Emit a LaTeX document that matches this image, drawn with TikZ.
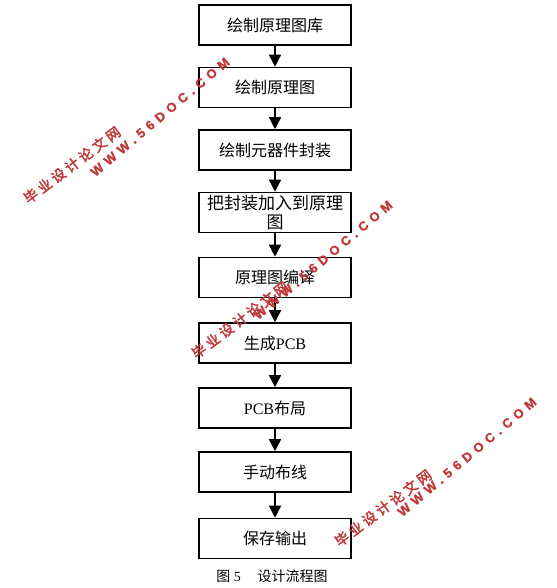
\documentclass[tikz,border=0pt]{standalone}
\usepackage{fontspec}
\setmainfont{Liberation Serif}
\newfontfamily\cjk{Noto Sans CJK SC}
\newfontfamily\cjkb[FakeBold=2.5]{Noto Sans CJK SC}
\newfontfamily\wmlat[LetterSpace=38,FakeBold=1.5]{Liberation Sans}
\usetikzlibrary{arrows.meta}
\definecolor{wmred}{HTML}{C0393B}
\tikzset{
  stepbox/.style={draw=black, line width=1.6pt, minimum width=152pt, minimum height=40pt,
    inner sep=0pt, font=\fontsize{16}{17}\selectfont, align=center},
  flow/.style={line width=1.6pt, -{Triangle[width=12pt,length=12pt]}},
  wmcn/.style={text=wmred, font=\cjkb\fontsize{14}{14}\selectfont, rotate=37, inner sep=0pt},
  wmen/.style={text=wmred, font=\wmlat\bfseries\fontsize{13}{13}\selectfont, rotate=40, inner sep=0pt}
}
\begin{document}
\begin{tikzpicture}[x=1pt,y=-1pt]
\useasboundingbox (0,0) rectangle (556,588);
\node[stepbox] (b1) at (275,25) {\cjk 绘制原理图库};
\node[stepbox] (b2) at (275,87.5) {\cjk 绘制原理图};
\node[stepbox] (b3) at (275,150) {\cjk 绘制元器件封装};
\node[stepbox, font=\fontsize{17}{19}\selectfont] (b4) at (275,212.5) {\cjk 把封装加入到原理\\\cjk 图};
\node[stepbox] (b5) at (275,277.5) {\cjk 原理图编译};
\node[stepbox] (b6) at (275,343) {{\cjk 生成}PCB};
\node[stepbox] (b7) at (275,408) {PCB{\cjk 布局}};
\node[stepbox] (b8) at (275,472) {\cjk 手动布线};
\node[stepbox] (b9) at (275,538.5) {\cjk 保存输出};
\foreach \a/\b in {b1/b2,b2/b3,b3/b4,b4/b5,b5/b6,b6/b7,b7/b8,b8/b9}
  \draw[flow] (\a) -- (\b);
\node[font=\fontsize{14}{14}\selectfont] (cap) at (272,576) {{\cjk 图}\hspace{0.25em}5\hspace{1.2em}{\cjk 设计流程图}};
% watermarks
\node[wmcn] (w1c) at (72,165) {毕 业 设 计 论 文 网};
\node[wmen] (w1e) at (160,117) {WWW.56DOC.COM};
\node[wmcn] (w2c) at (240,320) {毕 业 设 计 论 文 网};
\node[wmen] (w2e) at (323,260) {WWW.56DOC.COM};
\node[wmcn] (w3c) at (383,508) {毕 业 设 计 论 文 网};
\node[wmen] (w3e) at (467,457) {WWW.56DOC.COM};
\end{tikzpicture}
\end{document}
